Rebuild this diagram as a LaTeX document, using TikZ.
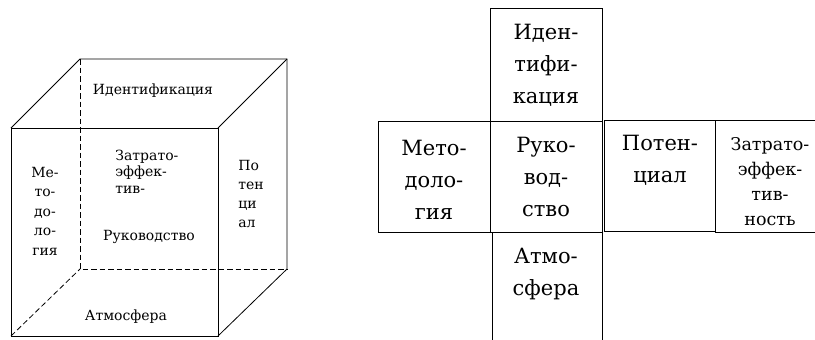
\documentclass[tikz,border=0pt]{standalone}
\usepackage{fontspec}
\newfontfamily\cyrserif{DejaVu Serif}
\begin{document}
\begin{tikzpicture}[x=1pt,y=-1pt, line width=0.8pt,
  edge/.style={draw=black},
  hidden/.style={draw=black, dash pattern=on 5.5pt off 3pt},
  cubetxt/.style={inner sep=0pt, font=\cyrserif\fontsize{14}{19.5}\selectfont},
  nettxt/.style={inner sep=0pt, align=center, font=\cyrserif\fontsize{21}{32}\selectfont},
  smalltxt/.style={inner sep=0pt, align=center, font=\cyrserif\fontsize{17.5}{25}\selectfont},
  facebox/.style={draw=black, inner sep=0pt, minimum width=#1},
  facebox/.default=112pt]
\useasboundingbox (0,0) rectangle (815,340);
\clip (0,0) rectangle (815,340);
% ---- cube ----
\coordinate (F1) at (11,128);
\coordinate (F2) at (218,128);
\coordinate (F3) at (218,336);
\coordinate (F4) at (11,336);
\coordinate (B1) at (80,59);
\coordinate (B2) at (287,59);
\coordinate (B3) at (287,269);
\coordinate (B4) at (80,269);
\draw[edge] (F1) -- (F2) -- (F3) -- (F4) -- cycle;
\draw[edge] (F1) -- (B1) -- (B2) -- (B3) -- (F3);
\draw[edge] (F2) -- (B2);
\draw[hidden] (B1) -- (B4) -- (B3);
\draw[hidden] (F4) -- (B4);
\node[cubetxt] (cid) at (153,91) {Идентификация};
\node[cubetxt, align=center] (cmet) at (45,211) {Ме-\\то-\\до-\\ло-\\гия};
\node[cubetxt, align=left, anchor=west, font=\cyrserif\fontsize{14}{16.5}\selectfont] (czat) at (115,171.5) {Затрато-\\эффек-\\тив-};
\node[cubetxt] (cruk) at (149,237) {Руководство};
\node[cubetxt, align=left, anchor=west, font=\cyrserif\fontsize{14}{19}\selectfont] (cpot) at (238,194) {По\\тен\\ци\\ал};
\node[cubetxt] (catm) at (126,317) {Атмосфера};
% ---- net ----
\node[facebox, minimum height=113pt] (idbox) at (546,64.5) {};
\node[facebox, minimum height=111pt] (metbox) at (434,176.5) {};
\node[facebox, minimum height=111pt] (rukbox) at (546,176.5) {};
\node[facebox=111pt, minimum height=111pt] (potbox) at (659.5,175.5) {};
\node[facebox=110pt, minimum height=112pt] (zatbox) at (770,176) {};
\node[facebox=110pt, minimum height=128pt] (atmbox) at (547,296) {};
\node[nettxt] (idtxt) at (546,65) {Иден-\\тифи-\\кация};
\node[nettxt] (mettxt) at (434,180) {Мето-\\доло-\\гия};
\node[nettxt] (ruktxt) at (546,177) {Руко-\\вод-\\ство};
\node[nettxt] (pottxt) at (660,160) {Потен-\\циал};
\node[smalltxt] (zattxt) at (770,182) {Затрато-\\эффек-\\тив-\\ность};
\node[nettxt] (atmtxt) at (546,274) {Атмо-\\сфера};
\end{tikzpicture}
\end{document}
